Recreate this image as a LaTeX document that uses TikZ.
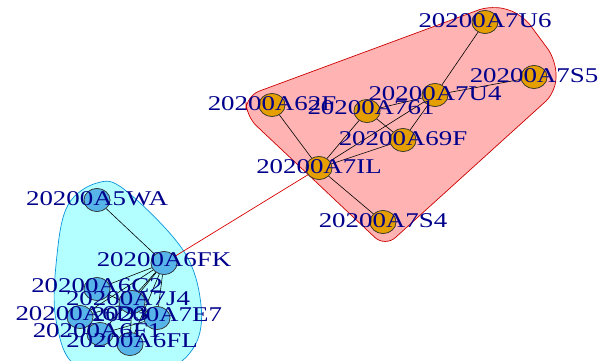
\documentclass[tikz,border=0pt]{standalone}
\usepackage{fontspec}
\setmainfont{Liberation Serif}
\usetikzlibrary{shapes.geometric}
\definecolor{vorange}{HTML}{E69F00}
\definecolor{vblue}{HTML}{56B4E9}
\definecolor{hullred}{HTML}{FFB3B3}
\definecolor{hullcyan}{HTML}{B3FFFF}
\definecolor{lbl}{RGB}{0,0,139}
\tikzset{
  vtx/.style={ellipse,draw=black!80,line width=0.6pt,minimum width=26pt,minimum height=23pt,inner sep=0pt},
  vo/.style={vtx,fill=vorange},
  vb/.style={vtx,fill=vblue},
  edg/.style={draw=black,line width=0.6pt},
  xedg/.style={draw=red!85!black,line width=0.7pt},
  lab/.style={text=lbl,font=\fontsize{21}{21}\selectfont,inner sep=0pt,xscale=1.28}
}
\begin{document}
\begin{tikzpicture}[x=1pt,y=-1pt]
\useasboundingbox (0,0) rectangle (603,361);
% hulls
\begin{scope}
\clip (0,0) rectangle (603,361);
\draw[fill=hullred,draw=red!80!black,line width=0.7pt,rounded corners=14pt]
  (246,96) -- (492,5) -- (522,14) -- (556,60) -- (556,92) -- (385,247) -- (246,116) -- cycle;
\draw[fill=hullcyan,draw=cyan!80!blue,line width=0.7pt]
  plot[smooth cycle,tension=0.6] coordinates {(97,183) (125,190) (183,250) (201,305) (194,347) (160,370) (80,368) (56,320) (57,255) (68,205)};
\end{scope}
% vertices
\node[vo] (u6) at (485,22) {};
\node[vo] (s5) at (534,77) {};
\node[vo] (u4) at (435,95) {};
\node[vo] (f62) at (272,105) {};
\node[vo] (a761) at (367,111) {};
\node[vo] (f69) at (403,140) {};
\node[vo] (il) at (319,168) {};
\node[vo] (s4) at (383,222) {};
\node[vb] (wa) at (97,200) {};
\node[vb] (fk) at (164,263) {};
\node[vb] (c2) at (97,289) {};
\node[vb] (j4) at (132,302) {};
\node[vb] (h1) at (80,317) {};
\node[vb] (e7) at (157,318) {};
\node[vb] (h2) at (100,334) {};
\node[vb] (fl) at (130,344) {};
% edges
\path[xedg] (fk) -- (il);
\path[edg] (f62) -- (il);
\path[edg] (il) -- (a761);
\path[edg] (il) -- (u4);
\path[edg] (il) -- (f69);
\path[edg] (il) -- (s4);
\path[edg] (a761) -- (u4);
\path[edg] (a761) -- (f69);
\path[edg] (u4) -- (f69);
\path[edg] (u4) -- (u6);
\path[edg] (u4) -- (s5);
\path[edg] (wa) -- (fk);
\path[edg] (fk) -- (c2);
\path[edg] (fk) -- (j4);
\path[edg] (fk) -- (h1);
\path[edg] (fk) -- (e7);
\path[edg] (fk) -- (h2);
\path[edg] (fk) -- (fl);
\path[edg] (c2) -- (e7);
\path[edg] (h1) -- (j4);
\path[edg] (j4) -- (fl);
\path[edg] (h2) -- (e7);
% redraw vertices above edges
\foreach \n/\s in {u6/vo,s5/vo,u4/vo,f62/vo,a761/vo,f69/vo,il/vo,s4/vo,wa/vb,fk/vb,c2/vb,j4/vb,h1/vb,e7/vb,h2/vb,fl/vb}
  \node[\s] at (\n.center) {};
% labels
\node[lab] (lu6) at ([yshift=1pt]u6.center) {20200A7U6};
\node[lab] (ls5) at ([yshift=1pt]s5.center) {20200A7S5};
\node[lab] (lu4) at ([yshift=1pt]u4.center) {20200A7U4};
\node[lab] (l62) at ([yshift=1pt]f62.center) {20200A62F};
\node[lab] (l761) at ([xshift=4pt,yshift=3pt]a761.center) {20200A761};
\node[lab] (l69) at ([yshift=1pt]f69.center) {20200A69F};
\node[lab] (lil) at ([yshift=1pt]il.center) {20200A7IL};
\node[lab] (ls4) at ([yshift=1pt]s4.center) {20200A7S4};
\node[lab] (lwa) at ([yshift=1pt]wa.center) {20200A5WA};
\node[lab] (lfk) at ([yshift=3pt]fk.center) {20200A6FK};
\node[lab] (lc2) at ([yshift=3pt]c2.center) {20200A6C2};
\node[lab] (lj4) at ([xshift=-4pt,yshift=3pt]j4.center) {20200A7J4};
\node[lab] (lh1) at ([xshift=2pt,yshift=3pt]h1.center) {20200A6D3};
\node[lab] (le7) at ([yshift=3pt]e7.center) {20200A7E7};
\node[lab] (lh2) at ([xshift=-3pt,yshift=3pt]h2.center) {20200A6F1};
\node[lab] (lfl) at ([xshift=2pt,yshift=3pt]fl.center) {20200A6FL};
\end{tikzpicture}
\end{document}
